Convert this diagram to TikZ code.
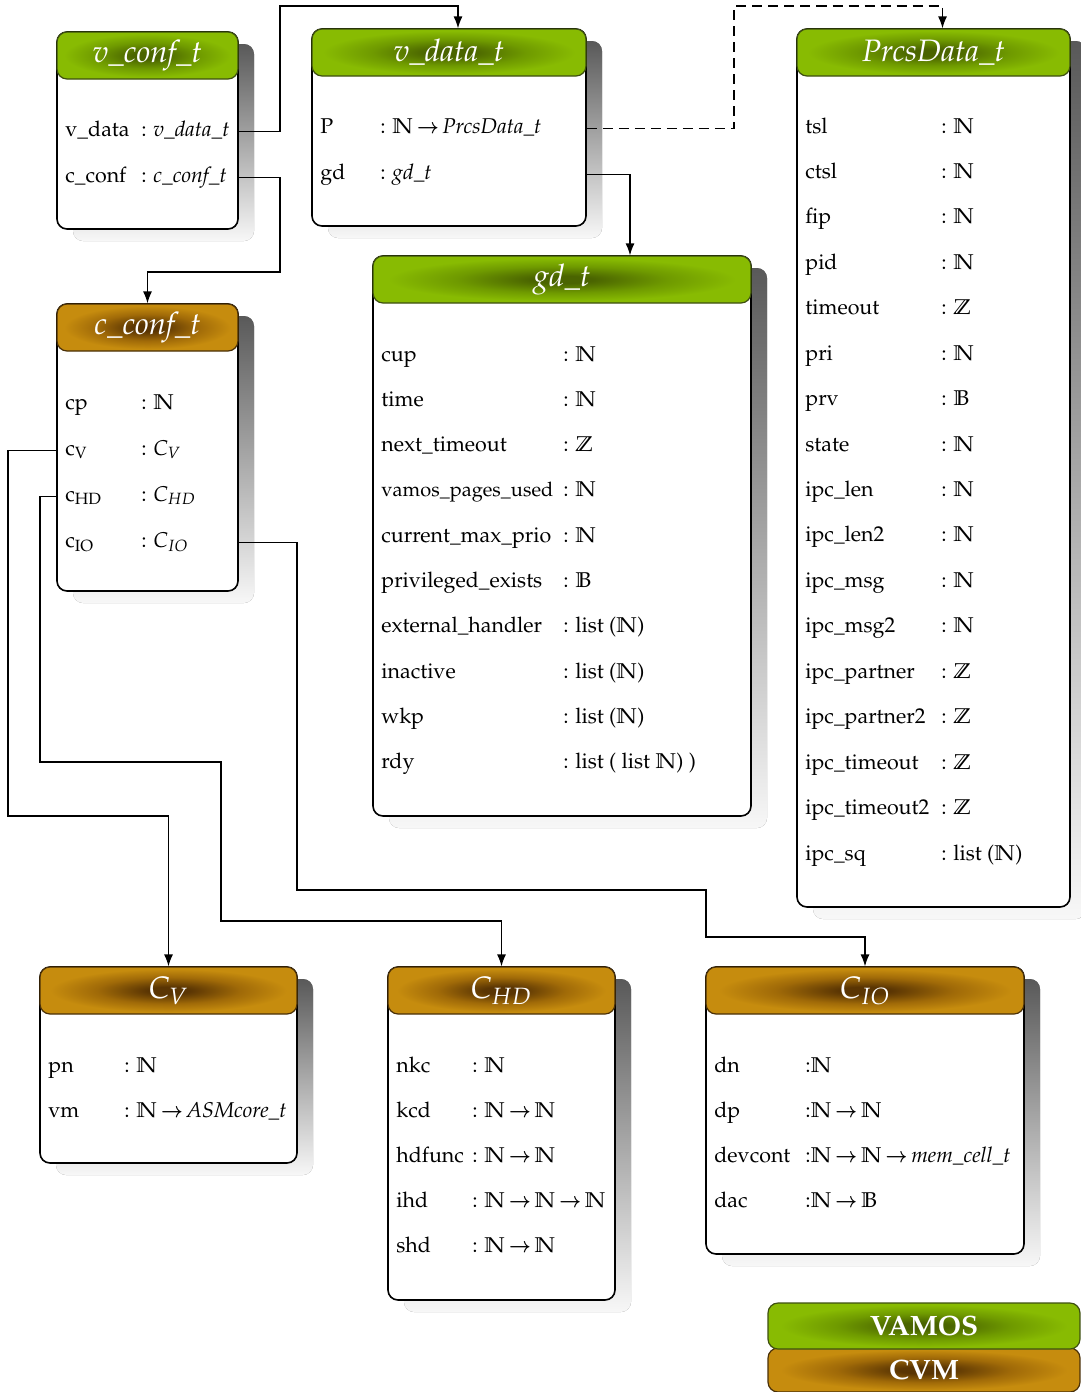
\documentclass[tikz,border=0pt]{standalone}
\usepackage[T1]{fontenc}
\usepackage{mathpazo}
\usepackage{tikz}
\usetikzlibrary{arrows.meta,fit,shadows}

\newcommand{\fto}{\,\scalebox{0.85}[0.95]{\boldmath$\rightarrow$}\,}

\definecolor{vamosedge}{HTML}{88BB02}
\definecolor{vamosmid}{HTML}{6F9A00}
\definecolor{vamoscore}{HTML}{4A6400}
\definecolor{vamosline}{HTML}{3E5010}
\definecolor{cvmedge}{HTML}{C68C0E}
\definecolor{cvmmid}{HTML}{A06A08}
\definecolor{cvmcore}{HTML}{5A3503}
\definecolor{cvmline}{HTML}{4A3008}

\pgfdeclareradialshading{vamoshead}{\pgfpoint{0bp}{0bp}}{color(0bp)=(vamoscore); color(4bp)=(vamoscore); color(14bp)=(vamosmid); color(23bp)=(vamosedge); color(50bp)=(vamosedge)}
\pgfdeclareradialshading{cvmhead}{\pgfpoint{0bp}{0bp}}{color(0bp)=(cvmcore); color(4bp)=(cvmcore); color(14bp)=(cvmmid); color(23bp)=(cvmedge); color(50bp)=(cvmedge)}

\begin{document}
\begin{tikzpicture}[x=0.5pt, y=-0.5pt,
  box/.style={draw, line width=0.8pt, rounded corners=5pt, fill=white, inner sep=0pt,
    drop shadow={shadow xshift=8pt, shadow yshift=-6pt, top color=black!65, bottom color=black!3, opacity=1}},
  vamos/.style={draw=vamosline, line width=0.6pt, rounded corners=5pt, shade, shading=vamoshead, inner sep=0pt},
  cvm/.style={vamos, draw=cvmline, shading=cvmhead},
  title/.style={text=white, inner sep=0pt, font=\fontsize{15.5}{18}\selectfont\itshape},
  keytitle/.style={title, font=\fontsize{14}{16}\selectfont\bfseries},
  row/.style={anchor=base west, inner sep=0pt, font=\fontsize{10.7}{13}\selectfont},
  conn/.style={line width=0.65pt, -{Latex[length=6pt,width=4.5pt]}}]
  \useasboundingbox (0,0) rectangle (1081,1392);

  \node[box, fit={(57,32) (238,229)}] (vconf) {};
  \node[vamos, fit={(57,32) (238,79)}] (vconfhead) {};
  \node[title] (vconftitle) at (vconfhead) {v\_conf\_t};
  \foreach \lab/\typ [count=\i] in {v\_data/\textit{v\_data\_t}, c\_conf/\textit{c\_conf\_t}} {
    \node[row] (vconf-\i) at (65,{136+46*(\i-1)}) {\lab};
    \node[row] (vconf-\i-type) at (141,{136+46*(\i-1)}) {: \typ};
  }

  \node[box, fit={(312,29) (586,226)}] (vdata) {};
  \node[vamos, fit={(312,29) (586,76)}] (vdatahead) {};
  \node[title] (vdatatitle) at (vdatahead) {v\_data\_t};
  \foreach \lab/\typ [count=\i] in {P/$\mathbb{N}$\fto\textit{PrcsData\_t}, gd/\textit{gd\_t}} {
    \node[row] (vdata-\i) at (320,{133+46*(\i-1)}) {\lab};
    \node[row] (vdata-\i-type) at (380,{133+46*(\i-1)}) {: \typ};
  }

  \node[box, fit={(797,29) (1070,907)}] (prcs) {};
  \node[vamos, fit={(797,29) (1070,76)}] (prcshead) {};
  \node[title] (prcstitle) at (prcshead) {PrcsData\_t};
  \foreach \lab/\typ [count=\i] in {tsl/$\mathbb{N}$, ctsl/$\mathbb{N}$, fip/$\mathbb{N}$, pid/$\mathbb{N}$,
      timeout/$\mathbb{Z}$, pri/$\mathbb{N}$, prv/$\mathbb{B}$, state/$\mathbb{N}$, ipc\_len/$\mathbb{N}$,
      ipc\_len2/$\mathbb{N}$, ipc\_msg/$\mathbb{N}$, ipc\_msg2/$\mathbb{N}$, ipc\_partner/$\mathbb{Z}$,
      ipc\_partner2/$\mathbb{Z}$, ipc\_timeout/$\mathbb{Z}$, ipc\_timeout2/$\mathbb{Z}$, ipc\_sq/list ($\mathbb{N}$)} {
    \node[row] (prcs-\i) at (805,{133+45.44*(\i-1)}) {\lab};
    \node[row] (prcs-\i-type) at (941,{133+45.44*(\i-1)}) {: \typ};
  }

  \node[box, fit={(373,256) (751,816)}] (gd) {};
  \node[vamos, fit={(373,256) (751,303)}] (gdhead) {};
  \node[title] (gdtitle) at (gdhead) {gd\_t};
  \foreach \lab/\typ [count=\i] in {cup/$\mathbb{N}$, time/$\mathbb{N}$, next\_timeout/$\mathbb{Z}$,
      {\fontsize{10}{12}\selectfont vamos\_pages\_used}/$\mathbb{N}$, current\_max\_prio/$\mathbb{N}$,
      privileged\_exists/$\mathbb{B}$, external\_handler/list ($\mathbb{N}$), inactive/list ($\mathbb{N}$),
      wkp/list ($\mathbb{N}$), rdy/list ( list $\mathbb{N}$) )} {
    \node[row] (gd-\i) at (381,{361+45.3*(\i-1)}) {\lab};
    \node[row] (gd-\i-type) at (563,{361+45.3*(\i-1)}) {: \typ};
  }

  \node[box, fit={(57,304) (238,591)}] (cconf) {};
  \node[cvm, fit={(57,304) (238,351)}] (cconfhead) {};
  \node[title] (cconftitle) at (cconfhead) {c\_conf\_t};
  \foreach \lab/\typ [count=\i] in {cp/$\mathbb{N}$, c$_\mathrm{V}$/$C_V$, c$_\mathrm{HD}$/$C_{HD}$, c$_\mathrm{IO}$/$C_{IO}$} {
    \node[row] (cconf-\i) at (65,{409+46*(\i-1)}) {\lab};
    \node[row] (cconf-\i-type) at (141,{409+46*(\i-1)}) {: \typ};
  }

  \node[box, fit={(40,967) (297,1163)}] (cv) {};
  \node[cvm, fit={(40,967) (297,1014)}] (cvhead) {};
  \node[title] (cvtitle) at (cvhead) {$C_V$};
  \foreach \lab/\typ [count=\i] in {pn/$\mathbb{N}$, vm/$\mathbb{N}$\fto\textit{ASMcore\_t}} {
    \node[row] (cv-\i) at (48,{1072+45*(\i-1)}) {\lab};
    \node[row] (cv-\i-type) at (124,{1072+45*(\i-1)}) {: \typ};
  }

  \node[box, fit={(388,967) (615,1300)}] (chd) {};
  \node[cvm, fit={(388,967) (615,1014)}] (chdhead) {};
  \node[title] (chdtitle) at (chdhead) {$C_{HD}$};
  \foreach \lab/\typ [count=\i] in {nkc/$\mathbb{N}$, kcd/$\mathbb{N}$\fto$\mathbb{N}$, hdfunc/$\mathbb{N}$\fto$\mathbb{N}$,
      ihd/$\mathbb{N}$\fto$\mathbb{N}$\fto$\mathbb{N}$, shd/$\mathbb{N}$\fto$\mathbb{N}$} {
    \node[row] (chd-\i) at (396,{1072+45*(\i-1)}) {\lab};
    \node[row] (chd-\i-type) at (472,{1072+45*(\i-1)}) {: \typ};
  }

  \node[box, fit={(706,967) (1024,1254)}] (cio) {};
  \node[cvm, fit={(706,967) (1024,1014)}] (ciohead) {};
  \node[title] (ciotitle) at (ciohead) {$C_{IO}$};
  \foreach \lab/\typ [count=\i] in {dn/$\mathbb{N}$, dp/$\mathbb{N}$\fto$\mathbb{N}$,
      devcont/$\mathbb{N}$\fto$\mathbb{N}$\fto\textit{mem\_cell\_t}, dac/$\mathbb{N}$\fto$\mathbb{B}$} {
    \node[row] (cio-\i) at (714,{1072+45*(\i-1)}) {\lab};
    \node[row] (cio-\i-type) at (805,{1072+45*(\i-1)}) {:\typ};
  }

  \node[cvm, fit={(768,1348) (1080,1392)}] (cvmkey) {};
  \node[keytitle] (cvmtitle) at (cvmkey) {CVM};
  \node[vamos, fit={(768,1303) (1080,1349)}] (vamoskey) {};
  \node[keytitle] (vamostitle) at (vamoskey) {VAMOS};

  \draw[conn] (vconf-1.mid -| vconf.east) -| (280,6) -| ([xshift=4.5pt]vdatahead.north);
  \draw[conn] (vconf-2.mid -| vconf.east) -| (280,272) -| (cconfhead.north);
  \draw[conn, dash pattern=on 5pt off 3pt] (vdata-1.mid -| vdata.east) -| (734,6) -| ([xshift=4.5pt]prcshead.north);
  \draw[conn] (vdata-2.mid -| vdata.east) -| ([xshift=34pt]gdhead.north);
  \draw[conn] (cconf-2.mid -| cconf.west) -| (8,816) -| (cvhead.north);
  \draw[conn] (cconf-3.mid -| cconf.west) -| (40,762) -| (221,921) -| (chdhead.north);
  \draw[conn] (cconf-4.mid -| cconf.east) -| (297,890) -| (706,937) -| (ciohead.north);
\end{tikzpicture}
\end{document}
